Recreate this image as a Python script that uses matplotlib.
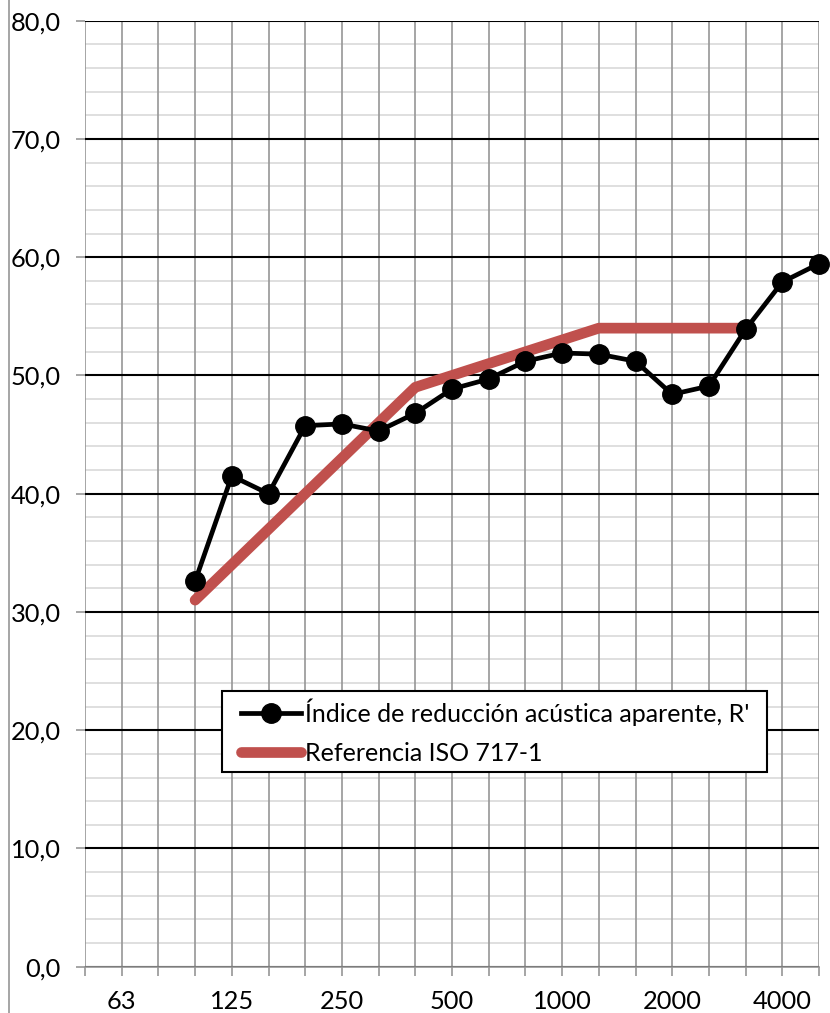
import numpy as np
import matplotlib
matplotlib.use('Agg')
import matplotlib.pyplot as plt
from matplotlib.lines import Line2D
from matplotlib.legend_handler import HandlerLine2D
from matplotlib.ticker import FixedLocator, FuncFormatter

plt.rcParams['font.family'] = ['Lato', 'DejaVu Sans']

# third-octave bands, Hz
bands = ['50', '63', '80', '100', '125', '160', '200', '250', '315', '400', '500',
         '630', '800', '1000', '1250', '1600', '2000', '2500', '3150', '4000', '5000']
shown_labels = ['63', '125', '250', '500', '1000', '2000', '4000']

# apparent sound reduction index R' (100 - 5000 Hz)
r_bands = bands[3:]
r_values = [32.6, 41.5, 40.0, 45.75, 45.9, 45.3, 46.8, 48.85, 49.7, 51.2,
            51.9, 51.8, 51.2, 48.4, 49.1, 53.9, 57.9, 59.45]

# shifted ISO 717-1 reference curve (100 - 3150 Hz)
ref_bands = bands[3:19]
ref_values = [31, 34, 37, 40, 43, 46, 49, 50, 51, 52, 53, 54, 54, 54, 54, 54]

x_all = np.arange(len(bands))
x_r = [bands.index(b) for b in r_bands]
x_ref = [bands.index(b) for b in ref_bands]

fs = 18.0

fig = plt.figure(figsize=(8.3, 10.13), dpi=100)
ax = fig.add_axes([85 / 830, 1 - 966.7 / 1013, 734 / 830, 946 / 1013])

ax.set_xlim(0, len(bands) - 1)
ax.set_ylim(0, 80)

# grid
for xi in x_all:
    ax.axvline(xi, color='#969696', lw=1.2, zorder=1)
for yv in np.arange(0, 81, 2):
    if yv % 10 == 0:
        ax.axhline(yv, color='black', lw=1.5, zorder=2)
    else:
        ax.axhline(yv, color='#d9d9d9', lw=1.2, zorder=0.5)

ax.plot(x_ref, ref_values, color='#c0504d', lw=7.7, solid_capstyle='round', zorder=3)
ax.plot(x_r, r_values, color='black', lw=3.4, marker='o', markersize=14, zorder=4,
        clip_on=False)

for s in ['top', 'right', 'left']:
    ax.spines[s].set_visible(False)
ax.spines['bottom'].set_color('#969696')
ax.spines['bottom'].set_linewidth(1.2)

ax.yaxis.set_major_locator(FixedLocator(np.arange(0, 81, 10)))
ax.yaxis.set_major_formatter(FuncFormatter(lambda v, p: f'{v:.1f}'.replace('.', ',')))
ax.xaxis.set_major_locator(FixedLocator(x_all))
ax.set_xticklabels([b if b in shown_labels else '' for b in bands])
ax.tick_params(axis='y', length=6.5, width=1.2, color='#969696', pad=11, labelsize=18.3)
ax.tick_params(axis='x', length=6.5, width=1.2, color='#969696', pad=10, labelsize=18.3)

handles = [Line2D([], [], color='black', lw=3.4, marker='o', markersize=14),
           Line2D([], [], color='#c0504d', lw=7.7, solid_capstyle='round')]
labels = ["Índice de reducción acústica aparente, R'", 'Referencia ISO 717-1']
leg = ax.legend(handles, labels, loc='upper left',
                bbox_to_anchor=(0.1866, 0.2914, 0.742, 0.0), mode='expand',
                borderaxespad=0, fontsize=fs, handlelength=2.88, handletextpad=0.15,
                fancybox=False, framealpha=1, edgecolor='black', labelspacing=0.62,
                borderpad=0.3, handler_map={Line2D: HandlerLine2D(xpad=0.48)})
leg.get_frame().set_linewidth(1.5)
leg.set_zorder(5)

# outer border line on the left
fig.add_artist(Line2D([9 / 830, 9 / 830], [0, 1], color='#969696', lw=1.2))

fig.savefig('out.png', dpi=100)
